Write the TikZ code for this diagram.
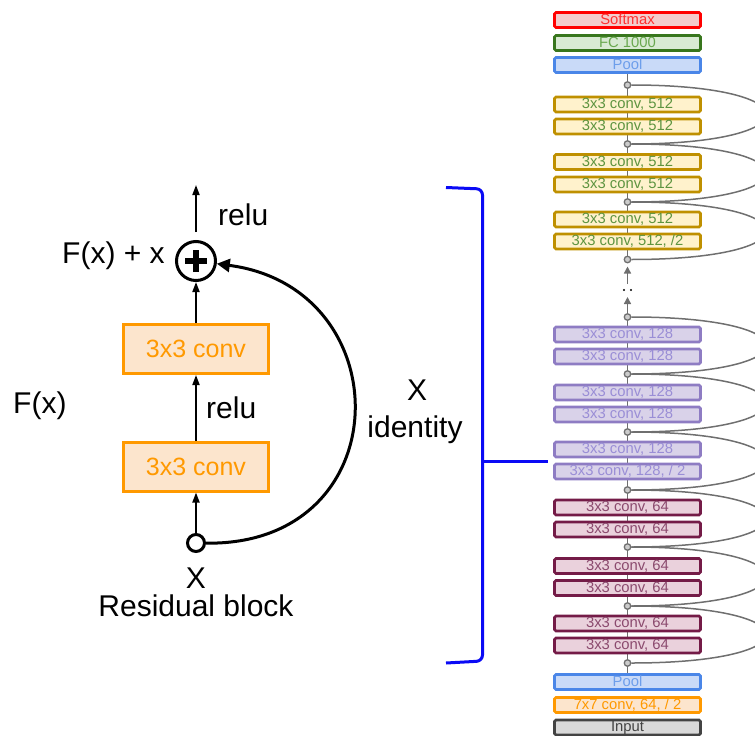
\documentclass[tikz,border=0pt]{standalone}
\usepackage{fontspec}
\setmainfont{Liberation Sans}
\usetikzlibrary{arrows.meta,backgrounds}
\definecolor{orB}{HTML}{FF9900}
\definecolor{orF}{HTML}{FCE5CD}
\definecolor{redB}{HTML}{FF0000}
\definecolor{redF}{HTML}{F4CCCC}
\definecolor{redT}{HTML}{FF3030}
\definecolor{grnB}{HTML}{38761D}
\definecolor{grnF}{HTML}{D9EAD3}
\definecolor{grnT}{HTML}{6AA84F}
\definecolor{bluB}{HTML}{4A86E8}
\definecolor{bluF}{HTML}{C9DAF8}
\definecolor{bluT}{HTML}{6D9EEB}
\definecolor{ylwB}{HTML}{BF9000}
\definecolor{ylwF}{HTML}{FFF2CC}
\definecolor{ylwT}{HTML}{5E9440}
\definecolor{purB}{HTML}{8E7CC3}
\definecolor{purF}{HTML}{D9D2E9}
\definecolor{purT}{HTML}{9A8ED6}
\definecolor{marB}{HTML}{741B47}
\definecolor{marF}{HTML}{EAD1DC}
\definecolor{marT}{HTML}{8B4A6E}
\definecolor{gryB}{HTML}{434343}
\definecolor{gryF}{HTML}{D9D9D9}
\definecolor{lnG}{HTML}{6F6F6F}
\definecolor{crF}{HTML}{CCCCCC}
\definecolor{brB}{HTML}{0A0AF5}
\begin{document}
\begin{tikzpicture}[x=1pt,y=-1pt,
  lbl/.style={inner sep=0pt, font=\fontsize{30}{36}\selectfont},
  convL/.style={draw=orB, fill=orF, line width=3pt, minimum width=145pt, minimum height=49pt,
    inner sep=0pt, text=orB, font=\fontsize{25}{30}\selectfont},
  plusnode/.style={circle, draw, line width=3pt, minimum size=39pt, inner sep=0pt,
    path picture={\draw[line width=5.5pt] ([xshift=-11pt]path picture bounding box.center) -- ([xshift=11pt]path picture bounding box.center);
                  \draw[line width=5.5pt] ([yshift=-11pt]path picture bounding box.center) -- ([yshift=11pt]path picture bounding box.center);}},
  xnode/.style={circle, draw, fill=white, line width=3pt, minimum size=17pt, inner sep=0pt},
  blackarrow/.style={line width=1.8pt, -{Triangle[length=10pt,width=7pt]}},
  curvearrow/.style={line width=3pt, -{Triangle[length=13pt,width=13pt]}},
  rbox/.style={line width=2.6pt, minimum width=146pt, minimum height=15pt, inner sep=0pt,
    rounded corners=1.5pt, text height=10.4pt, text depth=2.4pt, font=\fontsize{14.8}{16}\selectfont},
  sm/.style={rbox, draw=redB, fill=redF, text=redT},
  fcb/.style={rbox, draw=grnB, fill=grnF, text=grnT},
  poolb/.style={rbox, draw=bluB, fill=bluF, text=bluT},
  c512/.style={rbox, draw=ylwB, fill=ylwF, text=ylwT},
  c128/.style={rbox, draw=purB, fill=purF, text=purT},
  c64/.style={rbox, draw=marB, fill=marF, text=marT},
  c7/.style={rbox, draw=orB, fill=orF, text=orB},
  inb/.style={rbox, draw=gryB, fill=gryF, text=gryB},
  jn/.style={circle, draw=lnG, fill=crF, line width=1.3pt, minimum size=6.5pt, inner sep=0pt},
  gline/.style={draw=lnG, line width=1.4pt},
  garrow/.style={draw=lnG, line width=1.4pt, -{Triangle[length=7pt,width=7pt]}},
  gcurve/.style={draw=lnG, line width=1.5pt},
  bluebr/.style={draw=brB, line width=3pt}
]
\path[use as bounding box, clip] (0,0) rectangle (755,736);

% ---------- left: residual block ----------
\node[plusnode] (plus) at (196,261) {};
\node[convL] (convA) at (196,349) {3x3 conv};
\node[convL] (convB) at (196,466.5) {3x3 conv};
\node[xnode] (xin) at (196,543) {};
\coordinate (outtop) at (196,185);
\draw[blackarrow, shorten <=8pt] (plus) -- (outtop);
\draw[blackarrow] (convA) -- (plus);
\draw[blackarrow] (convB) -- (convA);
\draw[blackarrow] (xin) -- (convB);
\draw[curvearrow] (xin) .. controls (400,546) and (402,288) .. (plus);

\node[lbl, anchor=base west] (relu1) at (218,225.5) {relu};
\node[lbl, anchor=base west] (fxx) at (62,263) {F(x) + x};
\node[lbl, anchor=base west] (relu2) at (206,418) {relu};
\node[lbl, anchor=base west] (fx) at (13,413) {F(x)};
\node[lbl, anchor=base] (xlab) at (196,588) {X};
\node[lbl, anchor=base] (rb) at (196,616) {Residual block};
\node[lbl, anchor=base] (xid) at (417,400.5) {X};
\node[lbl, anchor=base] (idl) at (415,437) {identity};

% ---------- bracket ----------
\draw[bluebr, rounded corners=6pt] (446,187.5) -- (482.5,189) -- (482.5,661) -- (446,663);
\coordinate (brmid) at (482.5,461);
\coordinate (brend) at (548,461);
\draw[bluebr] (brmid) -- (brend);

% ---------- right: ResNet column ----------
\def\cx{627.5}
\node[sm] (softmax) at (\cx,20) {Softmax};
\node[fcb] (fc) at (\cx,43) {FC 1000};
\node[poolb] (pooltop) at (\cx,65) {Pool};
\node[jn] (c1) at (\cx,85) {};
\node[c512] (b1) at (\cx,104.5) {3x3 conv, 512};
\node[c512] (b2) at (\cx,126.5) {3x3 conv, 512};
\node[jn] (c2) at (\cx,144) {};
\node[c512] (b3) at (\cx,162) {3x3 conv, 512};
\node[c512] (b4) at (\cx,184.5) {3x3 conv, 512};
\node[jn] (c3) at (\cx,202) {};
\node[c512] (b5) at (\cx,219.5) {3x3 conv, 512};
\node[c512] (b6) at (\cx,241.5) {3x3 conv, 512, /2};
\node[jn] (c4) at (\cx,259.5) {};
\node[jn] (c5) at (\cx,317) {};
\node[c128] (b7) at (\cx,334.5) {3x3 conv, 128};
\node[c128] (b8) at (\cx,356.5) {3x3 conv, 128};
\node[jn] (c6) at (\cx,374) {};
\node[c128] (b9) at (\cx,392.5) {3x3 conv, 128};
\node[c128] (b10) at (\cx,414.5) {3x3 conv, 128};
\node[jn] (c7) at (\cx,432) {};
\node[c128] (b11) at (\cx,449.5) {3x3 conv, 128};
\node[c128] (b12) at (\cx,471.5) {3x3 conv, 128, / 2};
\node[jn] (c8) at (\cx,490) {};
\node[c64] (b13) at (\cx,507.5) {3x3 conv, 64};
\node[c64] (b14) at (\cx,529.5) {3x3 conv, 64};
\node[jn] (c9) at (\cx,547) {};
\node[c64] (b15) at (\cx,566) {3x3 conv, 64};
\node[c64] (b16) at (\cx,588) {3x3 conv, 64};
\node[jn] (c10) at (\cx,606) {};
\node[c64] (b17) at (\cx,623.5) {3x3 conv, 64};
\node[c64] (b18) at (\cx,645.5) {3x3 conv, 64};
\node[jn] (c11) at (\cx,663) {};
\node[poolb] (poolbot) at (\cx,682) {Pool};
\node[c7] (conv7) at (\cx,705) {7x7 conv, 64, / 2};
\node[inb] (input) at (\cx,727.5) {Input};

\begin{scope}[on background layer]
\draw[gline] (pooltop) -- (c1) -- (b1) -- (b2) -- (c2) -- (b3) -- (b4) -- (c3) -- (b5) -- (b6) -- (c4);
\draw[gline] (c5) -- (b7) -- (b8) -- (c6) -- (b9) -- (b10) -- (c7) -- (b11) -- (b12) -- (c8)
  -- (b13) -- (b14) -- (c9) -- (b15) -- (b16) -- (c10) -- (b17) -- (b18) -- (c11) -- (poolbot);
\end{scope}

% dotted gap with arrows
\coordinate (gA) at (\cx,284);
\coordinate (tA) at (\cx,266.5);
\coordinate (tB) at (\cx,297);
\draw[garrow] (gA) -- (tA);
\draw[garrow] (c5) -- (tB);
\fill[black] (624,290) circle (1.2pt) (631,290) circle (1.2pt);

% shortcut curves
\foreach \a/\b in {c1/c2,c2/c3,c3/c4,c5/c6,c6/c7,c7/c8,c8/c9,c9/c10,c10/c11}
  \draw[gcurve] (\a.east) .. controls +(180,0) and +(180,0) .. (\b.east);
\end{tikzpicture}
\end{document}
